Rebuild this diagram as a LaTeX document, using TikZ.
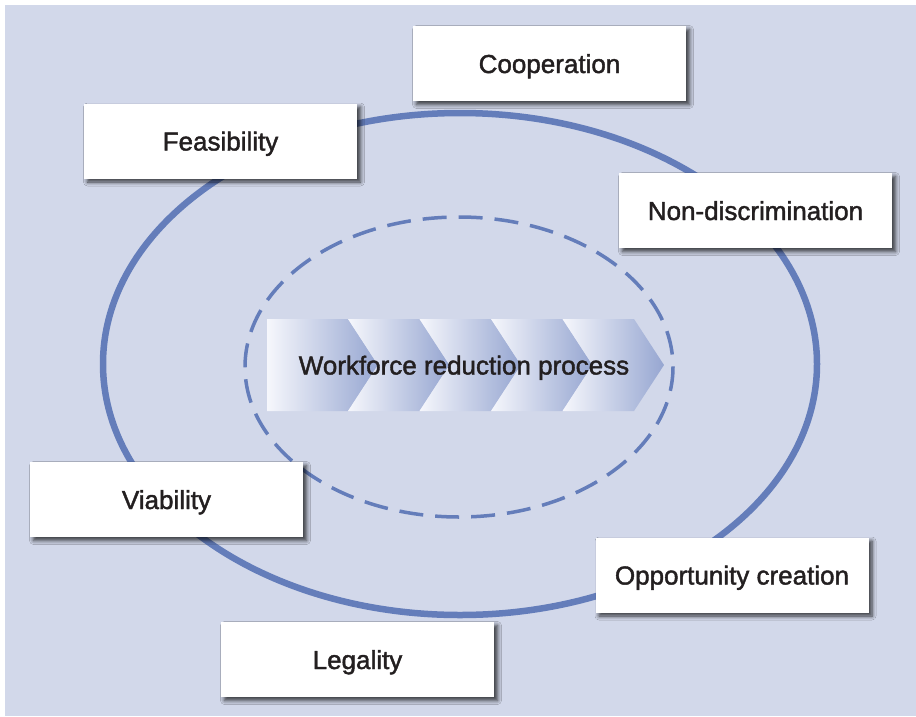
\documentclass[tikz,border=0pt]{standalone}
\usepackage{fontspec}
\setmainfont{Liberation Sans}
\newfontfamily\medfont{Liberation Sans}[FakeBold=1.6]
\usetikzlibrary{shadows.blur}
\definecolor{bgc}{RGB}{210,216,234}
\definecolor{ringc}{RGB}{100,125,186}
\definecolor{txtc}{RGB}{35,31,32}
\definecolor{chevL}{RGB}{246,247,252}
\definecolor{chevR}{RGB}{150,166,209}
\tikzset{
  lbl/.style={text=txtc, font=\medfont\fontsize{26}{30}\selectfont, text height=19pt, text depth=0pt},
  valuebox/.style={lbl, draw=none, fill=white, minimum width=273pt, minimum height=75pt,
    inner sep=0pt,
    blur shadow={shadow xshift=3.5pt, shadow yshift=-3.5pt, shadow blur steps=6, shadow blur radius=4pt, shadow opacity=75}},
  chev/.style={left color=chevL, right color=chevR},
}
\begin{document}
\begin{tikzpicture}[x=1pt,y=-1pt]
\useasboundingbox (0,0) rectangle (916,716);
\fill[bgc] (5,5) rectangle (916,716);
% rings
\draw[ringc, line width=6.5pt] (460,364) ellipse [x radius=357, y radius=251];
\draw[ringc, line width=3.5pt, dash pattern=on 24pt off 12pt] (459,367) ellipse [x radius=214, y radius=150];
% chevrons
\def\d{30}
\shade[chev] (267,319) -- (348,319) -- (348+\d,365) -- (348,411) -- (267,411) -- cycle;
\foreach \a/\b in {348/419.5, 419.5/491, 491/562.5, 562.5/634}{
  \shade[chev] (\a,319) -- (\b,319) -- (\b+\d,365) -- (\b,411) -- (\a,411) -- (\a+\d,365) -- cycle;
}
\node[lbl, inner sep=0pt] (proc) at (464,365) {Workforce reduction process};
% boxes
\node[valuebox] (coop) at (549.5,63.5) {Cooperation};
\node[valuebox] (feas) at (220.5,141) {Feasibility};
\node[valuebox] (nond) at (755.5,210.5) {Non-discrimination};
\node[valuebox] (viab) at (166.5,499.5) {Viability};
\node[valuebox] (opp) at (732,575) {Opportunity creation};
\node[valuebox] (leg) at (357.5,659.5) {Legality};
\end{tikzpicture}
\end{document}
